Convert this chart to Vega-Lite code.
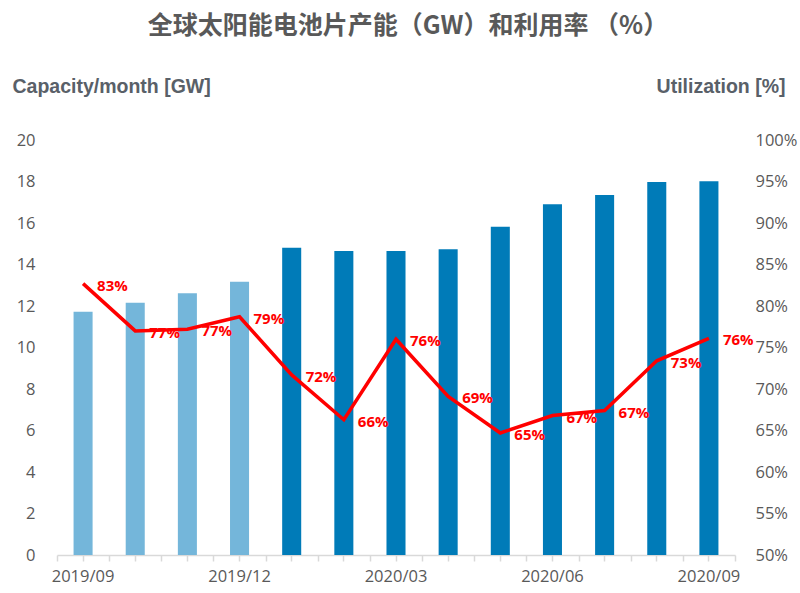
{
  "$schema": "https://vega.github.io/schema/vega-lite/v6.json",
  "width": 678,
  "height": 415,
  "autosize": {"type": "none"},
  "padding": {"left": 57, "top": 140, "right": 65, "bottom": 38},
  "background": "white",
  "config": {"view": {"stroke": null}},
  "title": {
    "text": "全球太阳能电池片产能（GW）和利用率  （%）",
    "anchor": "middle",
    "offset": 37,
    "fontSize": 25,
    "font": "Noto Sans CJK SC",
    "fontWeight": "bold",
    "color": "#595959",
    "dx": 12
  },
  "data": {
    "values": [
      {"month": "2019/09", "capacity": 11.72, "util": 0.827, "phase": "a"},
      {"month": "2019/10", "capacity": 12.16, "util": 0.770, "phase": "a"},
      {"month": "2019/11", "capacity": 12.61, "util": 0.772, "phase": "a"},
      {"month": "2019/12", "capacity": 13.17, "util": 0.787, "phase": "a"},
      {"month": "2020/01", "capacity": 14.81, "util": 0.717, "phase": "b"},
      {"month": "2020/02", "capacity": 14.65, "util": 0.663, "phase": "b"},
      {"month": "2020/03", "capacity": 14.65, "util": 0.760, "phase": "b"},
      {"month": "2020/04", "capacity": 14.73, "util": 0.691, "phase": "b"},
      {"month": "2020/05", "capacity": 15.82, "util": 0.647, "phase": "b"},
      {"month": "2020/06", "capacity": 16.9, "util": 0.668, "phase": "b"},
      {"month": "2020/07", "capacity": 17.35, "util": 0.674, "phase": "b"},
      {"month": "2020/08", "capacity": 17.98, "util": 0.734, "phase": "b"},
      {"month": "2020/09", "capacity": 18.01, "util": 0.761, "phase": "b"}
    ]
  },
  "layer": [
    {
      "mark": {"type": "bar", "width": {"band": 0.365}},
      "encoding": {
        "x": {
          "field": "month",
          "type": "ordinal",
          "scale": {"paddingInner": 0, "paddingOuter": 0},
          "axis": {
            "orient": "bottom",
            "title": null,
            "labelAngle": 0,
            "labelExpr": "indexof(['2019/09','2019/12','2020/03','2020/06','2020/09'], datum.value) >= 0 ? datum.value : ''",
            "labelFont": "Open Sans",
            "labelFontSize": 16.5,
            "labelColor": "#595959",
            "labelPadding": 7,
            "domainColor": "#D9D9D9",
            "domainWidth": 1.5,
            "tickColor": "#D9D9D9",
            "tickWidth": 1.5,
            "tickSize": 6,
            "grid": false
          }
        },
        "y": {
          "field": "capacity",
          "type": "quantitative",
          "scale": {"domain": [0, 20]},
          "axis": {
            "values": [0, 2, 4, 6, 8, 10, 12, 14, 16, 18, 20],
            "grid": false,
            "domain": false,
            "ticks": false,
            "labelFont": "Open Sans",
            "labelFontSize": 16.5,
            "labelColor": "#595959",
            "labelPadding": 22,
            "title": "Capacity/month [GW]",
            "titleAngle": 0,
            "titleAlign": "left",
            "titleBaseline": "alphabetic",
            "titleX": -45,
            "titleY": -48,
            "titleFont": "Liberation Sans",
            "titleFontSize": 19.5,
            "titleFontWeight": "bold",
            "titleColor": "#596068"
          }
        },
        "color": {
          "field": "phase",
          "type": "nominal",
          "scale": {"domain": ["a", "b"], "range": ["#74B6DA", "#007BB8"]},
          "legend": null
        }
      }
    },
    {
      "mark": {"type": "line", "color": "#FF0000", "strokeWidth": 3.5},
      "encoding": {
        "x": {
          "field": "month",
          "type": "ordinal",
          "axis": {
            "orient": "bottom",
            "title": null,
            "labels": false,
            "domain": false,
            "tickBand": "extent",
            "tickColor": "#D9D9D9",
            "tickWidth": 1.5,
            "tickSize": 6,
            "grid": false
          }
        },
        "y": {
          "field": "util",
          "type": "quantitative",
          "scale": {"domain": [0.5, 1]},
          "axis": {
            "orient": "right",
            "values": [0.5, 0.55, 0.6, 0.65, 0.7, 0.75, 0.8, 0.85, 0.9, 0.95, 1.0],
            "format": ".0%",
            "grid": false,
            "domain": false,
            "ticks": false,
            "labelFont": "Open Sans",
            "labelFontSize": 16.5,
            "labelColor": "#595959",
            "labelPadding": 20,
            "title": "Utilization [%]",
            "titleAngle": 0,
            "titleAlign": "right",
            "titleBaseline": "alphabetic",
            "titleX": 50,
            "titleY": -48,
            "titleFont": "Liberation Sans",
            "titleFontSize": 19.5,
            "titleFontWeight": "bold",
            "titleColor": "#596068"
          }
        }
      }
    },
    {
      "mark": {"type": "text", "color": "#FF0000", "align": "left", "baseline": "middle", "dx": 14, "dy": 2, "font": "Open Sans", "fontSize": 15, "fontWeight": "bold"},
      "encoding": {
        "x": {"field": "month", "type": "ordinal", "axis": null},
        "y": {"field": "util", "type": "quantitative", "scale": {"domain": [0.5, 1]}, "axis": null},
        "text": {"field": "util", "type": "quantitative", "format": ".0%"}
      }
    }
  ],
  "resolve": {"scale": {"y": "independent"}, "axis": {"x": "independent"}}
}
